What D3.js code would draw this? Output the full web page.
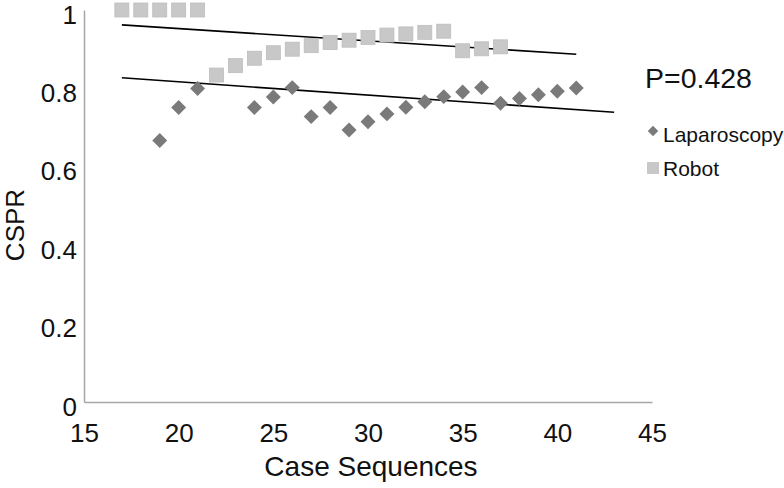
<!DOCTYPE html>
<html><head><meta charset="utf-8">
<script src="https://cdn.jsdelivr.net/npm/d3@7"></script>
<style>body{margin:0;background:#fff}svg text{font-family:"Liberation Sans",Arial,sans-serif;fill:#111}</style>
</head><body><svg id="c" width="784" height="488"></svg>
<script>
const lapX = [19,20,21,24,25,26,27,28,29,30,31,32,33,34,35,36,37,38,39,40,41];
const lapY = [0.667,0.751,0.800,0.751,0.778,0.802,0.728,0.751,0.694,0.715,0.735,0.752,0.766,0.779,0.791,0.802,0.762,0.774,0.784,0.793,0.801];
const robX = [17,18,19,20,21,22,23,24,25,26,27,28,29,30,31,32,33,34,35,36,37];
const robY = [1,1,1,1,1,0.834,0.858,0.877,0.891,0.900,0.909,0.917,0.923,0.930,0.936,0.939,0.943,0.946,0.896,0.901,0.906];
const lapTrendX = [17,43];
const lapTrendY = [0.827,0.739];
const robTrendX = [17,41];
const robTrendY = [0.962,0.887];
const xTicks = [15,20,25,30,35,40,45];
const yTicks = [0,0.2,0.4,0.6,0.8,1];
const seriesNames = ["Laparoscopy","Robot"];
const pText = "P=0.428";

const svg = d3.select("#c");
const x = d3.scaleLinear().domain([15,45]).range([84,652]);
const y = d3.scaleLinear().domain([0,1]).range([402,10]);

// axes
const xa = svg.append("g").attr("transform","translate(0,402)")
  .call(d3.axisBottom(x).tickValues(xTicks).tickSize(0).tickPadding(22).tickFormat(d3.format("d")));
const ya = svg.append("g").attr("transform","translate(84,0)")
  .call(d3.axisLeft(y).tickValues(yTicks).tickSize(0).tickPadding(7).tickFormat(d=>d===0?"0":d===1?"1":d3.format(".1f")(d)));
[xa,ya].forEach(g=>{
  g.select(".domain").attr("stroke","#a6a6a6").attr("stroke-width",1.5);
  g.selectAll("text").attr("font-size",26).attr("font-family","Liberation Sans, Arial, sans-serif").attr("fill","#111");
});
ya.selectAll("text").attr("dy","0.5em");

// trend lines
const line = d3.line().x(d=>x(d[0])).y(d=>y(d[1]));
svg.append("path").attr("d",line(d3.zip(robTrendX,robTrendY))).attr("stroke","#000").attr("stroke-width",1.6).attr("fill","none");
svg.append("path").attr("d",line(d3.zip(lapTrendX,lapTrendY))).attr("stroke","#000").attr("stroke-width",1.6).attr("fill","none");

// robot squares
svg.append("g").selectAll("rect").data(d3.zip(robX,robY)).join("rect")
  .attr("x",d=>x(d[0])-7).attr("y",d=>y(d[1])-7).attr("width",14).attr("height",14)
  .attr("fill","#c8c8c8").attr("stroke","#bdbdbd").attr("stroke-width",0.8);

// laparoscopy diamonds
svg.append("g").selectAll("path").data(d3.zip(lapX,lapY)).join("path")
  .attr("d",d3.symbol().type(d3.symbolSquare).size(112))
  .attr("transform",d=>`translate(${x(d[0])},${y(d[1])}) rotate(45)`)
  .attr("fill","#7a7a7a");

// legend
svg.append("text").attr("x",645).attr("y",88).attr("font-size",28.5).text(pText);
svg.append("path").attr("d",d3.symbol().type(d3.symbolSquare).size(55)).attr("transform","translate(653,131) rotate(45)").attr("fill","#7a7a7a");
svg.append("text").attr("x",663).attr("y",142).attr("font-size",21).text(seriesNames[0]);
svg.append("rect").attr("x",647).attr("y",162).attr("width",12).attr("height",12).attr("fill","#c8c8c8");
svg.append("text").attr("x",663).attr("y",176).attr("font-size",21).text(seriesNames[1]);

// axis titles
svg.append("text").attr("x",371).attr("y",476).attr("text-anchor","middle").attr("font-size",28).text("Case Sequences");
svg.append("text").attr("transform","translate(24,225) rotate(-90)").attr("text-anchor","middle").attr("font-size",26).text("CSPR");
</script></body></html>
